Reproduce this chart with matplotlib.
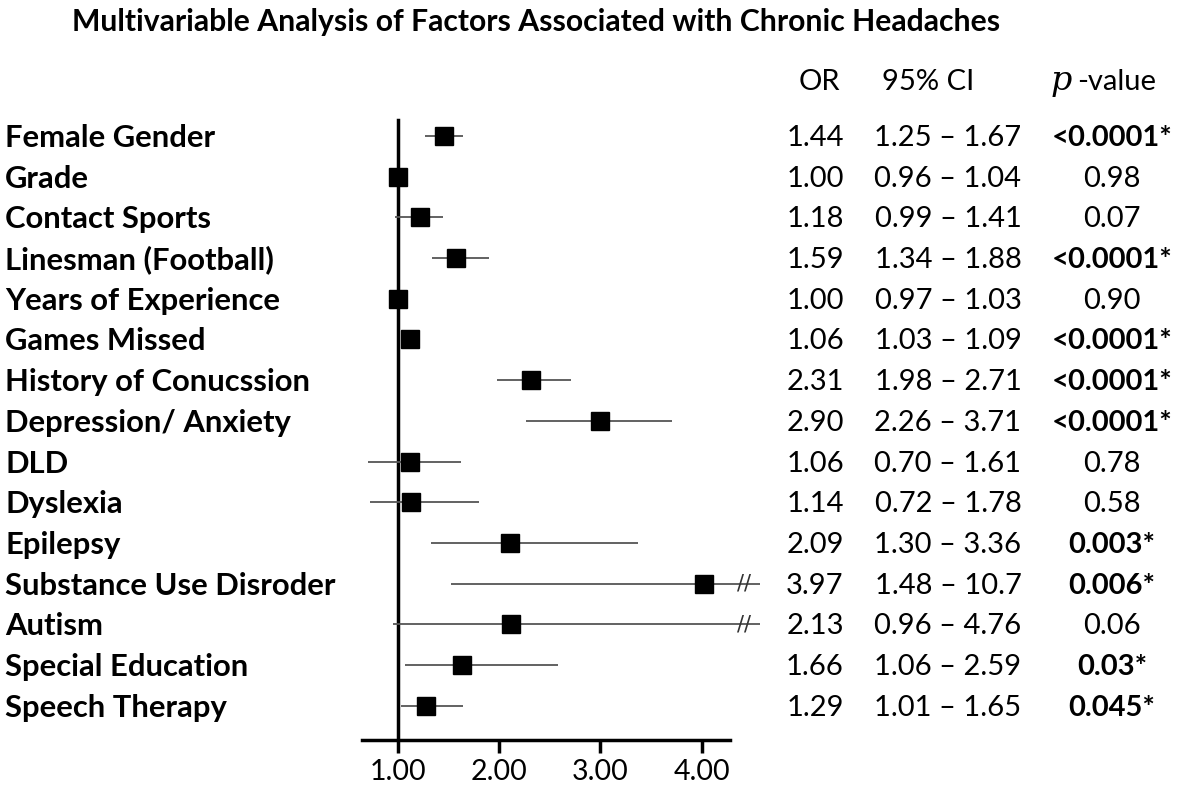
import matplotlib
matplotlib.use("Agg")
import matplotlib.pyplot as plt
from matplotlib.transforms import blended_transform_factory

factors = ["Female Gender", "Grade", "Contact Sports", "Linesman (Football)",
           "Years of Experience", "Games Missed", "History of Conucssion",
           "Depression/ Anxiety", "DLD", "Dyslexia", "Epilepsy",
           "Substance Use Disroder", "Autism", "Special Education", "Speech Therapy"]
or_text = ["1.44", "1.00", "1.18", "1.59", "1.00", "1.06", "2.31", "2.90",
           "1.06", "1.14", "2.09", "3.97", "2.13", "1.66", "1.29"]
ci_text = ["1.25 – 1.67", "0.96 – 1.04", "0.99 – 1.41", "1.34 – 1.88",
           "0.97 – 1.03", "1.03 – 1.09", "1.98 – 2.71", "2.26 – 3.71",
           "0.70 – 1.61", "0.72 – 1.78", "1.30 – 3.36", "1.48 – 10.7",
           "0.96 – 4.76", "1.06 – 2.59", "1.01 – 1.65"]
p_text = ["<0.0001*", "0.98", "0.07", "<0.0001*", "0.90", "<0.0001*",
          "<0.0001*", "<0.0001*", "0.78", "0.58", "0.003*", "0.006*",
          "0.06", "0.03*", "0.045*"]
p_bold = [True, False, False, True, False, True, True, True, False, False,
          True, True, False, True, True]
# plotted estimates and CI bounds (as drawn)
point = [1.45, 1.0, 1.22, 1.57, 1.0, 1.12, 2.31, 3.0, 1.12, 1.13, 2.11, 4.02, 2.12, 1.63, 1.28]
lower = [1.27, 0.96, 0.97, 1.34, 0.97, 1.03, 1.98, 2.26, 0.70, 0.72, 1.33, 1.52, 0.95, 1.07, 1.03]
upper = [1.64, 1.05, 1.44, 1.90, 1.05, 1.09, 2.71, 3.71, 1.62, 1.80, 3.37, 10.7, 4.76, 2.58, 1.64]
x_ticks = [1.0, 2.0, 3.0, 4.0]
x_tick_labels = ["1.00", "2.00", "3.00", "4.00"]

FONT = "Lato"
W, H = 1180, 790
fig = plt.figure(figsize=(W / 100, H / 100), dpi=100)
ax = fig.add_axes([362 / W, 1 - 740 / H, 400 / W, 640 / H])
xmin, xmax, clip = 0.645, 4.595, 4.58
ax.set_xlim(xmin, xmax)
n = len(factors)
ax.set_ylim(n - 1 + 0.84, -0.88)

rows = list(range(n))
for i in rows:
    hi = min(upper[i], clip)
    ax.plot([lower[i], hi], [i, i], color="#555555", lw=1.3, solid_capstyle="butt", zorder=2)
    if upper[i] > clip:
        ax.text(4.42, i, "//", ha="center", va="center", fontsize=15,
                family="DejaVu Sans", color="#333333", zorder=3)
ax.plot(point, rows, ls="none", marker="s", ms=12.5, color="black", zorder=4)

ax.axvline(1.0, ymin=0, ymax=(n - 1 + 0.84 + 0.39) / (n - 1 + 0.84 + 0.88), color="black", lw=2.5, zorder=1)

for s in ["top", "right", "left"]:
    ax.spines[s].set_visible(False)
ax.spines["bottom"].set_linewidth(2.5)
ax.spines["bottom"].set_bounds(xmin, 4.28)
ax.set_yticks([])
ax.set_xticks(x_ticks)
ax.set_xticklabels(x_tick_labels, fontsize=20.5, family=FONT)
ax.tick_params(axis="x", direction="out", length=9, width=2.5, pad=5)

tr = blended_transform_factory(fig.transFigure, ax.transData)
for i in rows:
    ax.text(5 / W, i + 0.05, factors[i], transform=tr, ha="left", va="center",
            fontsize=22.3, family=FONT, fontweight="bold")
    ax.text(815 / W, i + 0.05, or_text[i], transform=tr, ha="center", va="center",
            fontsize=21, family=FONT)
    ax.text(948 / W, i + 0.05, ci_text[i], transform=tr, ha="center", va="center",
            fontsize=21, family=FONT)
    ax.text(1112 / W, i + 0.05, p_text[i], transform=tr, ha="center", va="center",
            fontsize=21, family=FONT,
            fontweight="bold" if p_bold[i] else "normal")

hb = 1 - 90 / H
fig.text(819 / W, hb, "OR", ha="center", va="baseline", fontsize=21, family=FONT)
fig.text(928 / W, hb, "95% CI", ha="center", va="baseline", fontsize=21, family=FONT)
fig.text(1061 / W, hb, "p", ha="center", va="baseline", fontsize=24,
         family="DejaVu Serif", style="italic")
fig.text(1077 / W, hb, "-value", ha="left", va="baseline", fontsize=21, family=FONT)

fig.text(536 / W, 1 - 22 / H, "Multivariable Analysis of Factors Associated with Chronic Headaches",
         ha="center", va="center", fontsize=21.7, family=FONT, fontweight="bold")

fig.savefig("out.png", dpi=100)
